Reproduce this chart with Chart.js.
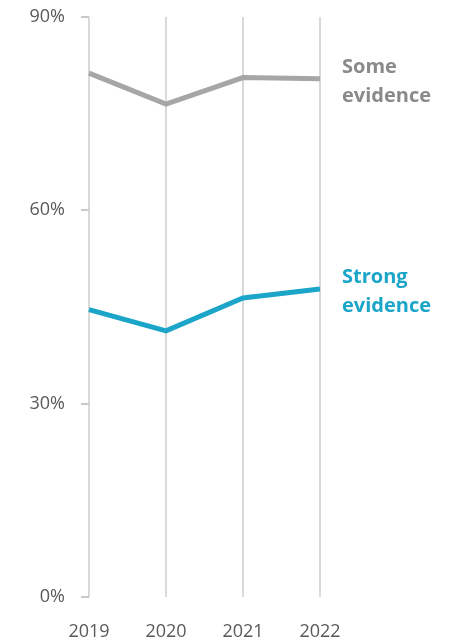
<!DOCTYPE html>
<html>
<head>
<meta charset="utf-8">
<script src="https://cdn.jsdelivr.net/npm/chart.js@4.4.1/dist/chart.umd.min.js"></script>
<style>
  html, body { margin: 0; padding: 0; background: #fff; }
  #wrap { position: relative; width: 456px; height: 643px; }
</style>
</head>
<body>
<div id="wrap"><canvas id="cv"></canvas></div>
<script>
  // Share of respondents, by year
  const years = ['2019', '2020', '2021', '2022'];
  const someEvidence = [81.3, 76.5, 80.6, 80.4];
  const strongEvidence = [44.6, 41.3, 46.4, 47.8];
  const yTicks = [0, 30, 60, 90];
  const seriesNames = [['Some', 'evidence'], ['Strong', 'evidence']];

  const GRAY = '#a6a6a6', TEAL = '#1ba5c8', TXT = '#595959';
  const FONT = "'Open Sans', 'DejaVu Sans', sans-serif";

  // draws the series name next to the last point
  const endLabels = {
    id: 'endLabels',
    afterDatasetsDraw(chart) {
      const c = chart.ctx;
      chart.data.datasets.forEach((ds, i) => {
        const meta = chart.getDatasetMeta(i);
        const pt = meta.data[meta.data.length - 1];
        if (!pt) return;
        const lines = seriesNames[i];
        c.save();
        c.font = 'bold 20px ' + FONT;
        c.fillStyle = ds.labelColor;
        c.textBaseline = 'middle';
        c.textAlign = 'left';
        const lh = 29;
        const y0 = pt.y + 3 - (lines.length - 1) * lh / 2;
        lines.forEach((t, k) => c.fillText(t, pt.x + 22, y0 + k * lh));
        c.restore();
      });
    }
  };

  new Chart(document.getElementById('cv'), {
    type: 'line',
    data: {
      labels: years,
      datasets: [
        { label: 'Some evidence', data: someEvidence, borderColor: GRAY, labelColor: '#8a8a8a', borderWidth: 5, pointRadius: 0, tension: 0, borderJoinStyle: 'miter' },
        { label: 'Strong evidence', data: strongEvidence, borderColor: TEAL, labelColor: TEAL, borderWidth: 5, pointRadius: 0, tension: 0, borderJoinStyle: 'miter' },
      ],
    },
    options: {
      responsive: true, maintainAspectRatio: false, animation: false,
      layout: { padding: { top: 17, right: 136, left: 0, bottom: 0 } },
      plugins: { legend: { display: false }, tooltip: { enabled: false } },
      scales: {
        x: {
          offset: false,
          grid: { color: '#d9d9d9', lineWidth: 2, drawTicks: false },
          border: { display: false },
          ticks: { color: TXT, font: { family: FONT, size: 18 }, padding: 24, maxRotation: 0 },
          afterFit(s) { s.height = 46; },
        },
        y: {
          min: 0, max: 90,
          afterBuildTicks(s) { s.ticks = yTicks.map((v) => ({ value: v })); },
          grid: { drawOnChartArea: false, drawTicks: true, tickLength: 8, color: '#c8c8c8', lineWidth: 2 },
          border: { display: false },
          ticks: { color: TXT, font: { family: FONT, size: 18 }, padding: 16, callback: (v) => v + '%' },
          afterFit(s) { s.width = 89; s.paddingTop = 0; s.paddingBottom = 0; },
        },
      },
    },
    plugins: [endLabels],
  });
</script>
</body>
</html>
